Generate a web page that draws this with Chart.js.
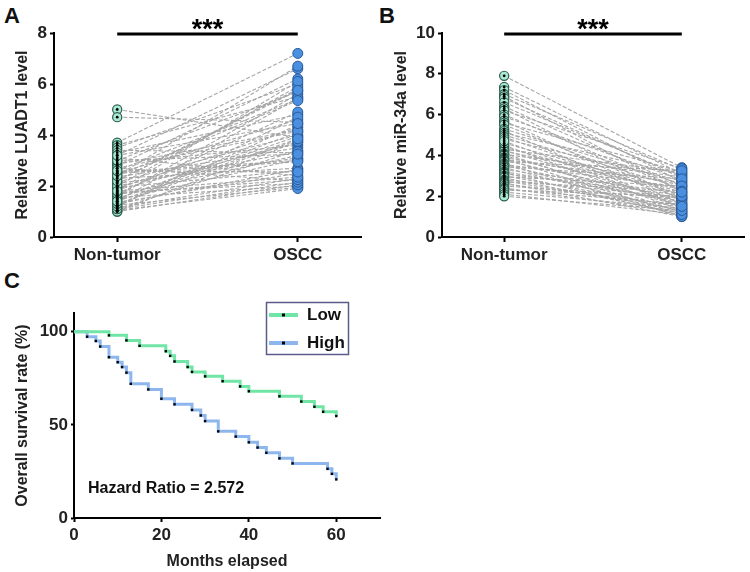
<!DOCTYPE html>
<html><head><meta charset="utf-8">
<script src="https://cdn.jsdelivr.net/npm/chart.js@4/dist/chart.umd.min.js"></script>
<style>
html,body{margin:0;padding:0;background:#fff;width:750px;height:572px;overflow:hidden;position:relative;font-family:'Liberation Sans',Arial,sans-serif;}
.lbl{position:absolute;font-weight:bold;font-size:22px;color:#111;line-height:1;}
canvas{position:absolute;}
</style></head><body>
<div class="lbl" style="left:4px;top:5px">A</div>
<div class="lbl" style="left:379px;top:5px">B</div>
<div class="lbl" style="left:4px;top:270px">C</div>
<canvas id="ca" width="375" height="272" style="left:0;top:0"></canvas>
<canvas id="cb" width="375" height="272" style="left:375px;top:0"></canvas>
<canvas id="cc" width="400" height="300" style="left:0;top:272px"></canvas>
<script>
// ---------- DATA ----------
const groups = ['Non-tumor', 'OSCC'];
const sigText = '***';

// Panel A: Relative LUADT1 level (paired samples)
const nonTumorA = [5.0, 4.7, 3.7, 3.6, 3.5, 3.4, 3.3, 3.2, 3.1, 3.0,
                   2.9, 2.85, 2.8, 2.7, 2.6, 2.55, 2.5, 2.4, 2.35, 2.3,
                   2.2, 2.15, 2.1, 2.0, 1.95, 1.9, 1.85, 1.8, 1.75, 1.7,
                   1.65, 1.6, 1.55, 1.5, 1.45, 1.4, 1.35, 1.3, 1.25, 1.2,
                   1.15, 1.1, 1.05, 1.0, 1.0, 1.1, 1.2, 1.3, 1.5, 1.7,
                   2.0, 2.2, 2.5, 2.7, 3.0, 3.2, 1.4, 1.8, 2.4, 2.6];
const osccA = [3.9, 4.5, 7.2, 5.5, 6.0, 3.3, 4.8, 6.6, 2.4, 5.7,
               3.6, 4.2, 6.2, 2.2, 5.4, 3.0, 4.6, 6.7, 3.5, 2.7,
               5.8, 4.0, 3.1, 5.9, 2.6, 4.3, 3.7, 6.1, 2.1, 4.9,
               3.2, 5.6, 2.0, 4.1, 3.05, 5.45, 2.5, 3.8, 1.95, 4.4,
               2.3, 3.4, 1.9, 2.05, 3.75, 2.15, 4.7, 2.65, 3.95, 2.25,
               3.35, 5.75, 2.95, 4.15, 3.25, 4.45, 3.85, 2.35, 5.35, 2.55];
const yTicksA = [0, 2, 4, 6, 8];
const yTitleA = 'Relative LUADT1 level';

// Panel B: Relative miR-34a level (paired samples)
const nonTumorB = [7.9, 7.35, 7.2, 7.0, 6.9, 6.8, 6.6, 6.4, 6.3, 6.2,
                   6.0, 5.9, 5.7, 5.6, 5.5, 5.3, 5.2, 5.1, 5.0, 4.9,
                   4.8, 4.5, 4.4, 4.3, 4.25, 4.2, 4.1, 4.05, 4.0, 3.9,
                   3.85, 3.8, 3.75, 3.7, 3.6, 3.55, 3.5, 3.45, 3.4, 3.3,
                   3.2, 3.15, 3.1, 3.0, 2.95, 2.9, 2.8, 2.75, 2.7, 2.65,
                   2.6, 2.5, 2.4, 2.35, 2.3, 2.2, 2.1, 2.0, 4.6, 4.7];
const osccB = [3.4, 3.1, 2.7, 3.3, 2.2, 2.9, 3.0, 2.5, 1.8, 3.35,
               2.3, 2.8, 1.6, 3.2, 2.0, 2.6, 1.4, 3.05, 2.4, 1.9,
               2.75, 1.3, 2.1, 3.15, 1.7, 2.55, 1.2, 2.95, 1.5, 2.35,
               1.1, 2.65, 1.85, 3.25, 1.0, 2.45, 1.65, 2.85, 1.25, 2.15,
               1.75, 1.05, 2.05, 1.45, 2.5, 1.15, 1.95, 1.35, 2.25, 1.0,
               1.55, 1.9, 1.2, 1.6, 2.0, 1.4, 1.1, 1.3, 2.2, 1.5];
const yTicksB = [0, 2, 4, 6, 8, 10];
const yTitleB = 'Relative miR-34a level';

// Panel C: Kaplan-Meier survival
const monthsLow = [0, 8, 12, 15, 21, 22, 23, 26, 27, 30, 34, 38, 40, 47, 52, 55, 57, 60];
const survLow   = [100, 98, 95.3, 92.4, 89.5, 87, 84, 81, 78.4, 76, 73.4, 70.6, 68, 65.3, 62.5, 59.7, 57, 54.7];
const monthsHigh = [0, 3, 5, 6, 8, 10, 11, 12, 13, 17, 20, 23, 27, 29, 30, 33, 37, 40, 42, 44, 47, 50, 58, 59, 60];
const survHigh   = [100, 97.3, 95, 92, 86.3, 83.6, 81, 78, 72, 69, 64, 61, 58, 55, 52, 46.5, 43.7, 40.6, 37.8, 35, 32, 29.3, 26.4, 23.7, 20.7];
const seriesC = ['Low', 'High'];
const xTicksC = [0, 20, 40, 60];
const yTicksC = [0, 50, 100];
const xTitleC = 'Months elapsed';
const yTitleC = 'Overall survival rate (%)';
const hazardText = 'Hazard Ratio = 2.572';

// ---------- STYLE ----------
const FONT = "'Liberation Sans', Arial, sans-serif";
const tickFont = {family: FONT, size: 17, weight: 'bold'};
const TXT = '#222';

const sigPlugin = {
  id: 'sig',
  afterDatasetsDraw(chart) {
    const {ctx, scales: {x}} = chart;
    const x0 = x.getPixelForValue(0), x1 = x.getPixelForValue(1);
    const yy = chart.chartArea.top + 1;
    ctx.save();
    ctx.strokeStyle = '#000'; ctx.lineWidth = 3;
    ctx.beginPath(); ctx.moveTo(x0, yy); ctx.lineTo(x1, yy); ctx.stroke();
    ctx.fillStyle = '#000';
    ctx.font = "bold 27px " + FONT;
    ctx.textAlign = 'center'; ctx.textBaseline = 'alphabetic';
    ctx.fillText(sigText, (x0 + x1) / 2, yy + 4);
    ctx.restore();
  }
};

function pairedChart(id, nt, os, yTicks, yTitle, yW, titlePad, padRight) {
  const ds = [];
  for (let i = 0; i < nt.length; i++) {
    ds.push({type: 'line', data: [{x: 0, y: nt[i]}, {x: 1, y: os[i]}],
      borderColor: '#a6a6a6', borderWidth: 1.1, borderDash: [4, 2],
      pointRadius: 0, order: 10, clip: false});
  }
  ds.push({type: 'scatter', data: nt.map(v => ({x: 0, y: v})), pointRadius: 4.6,
    backgroundColor: '#a9e9d2', borderColor: '#2e5e4e', borderWidth: 1.2, order: 3, clip: false});
  ds.push({type: 'scatter', data: nt.map(v => ({x: 0, y: v})), pointRadius: 1.4,
    backgroundColor: '#000', borderWidth: 0, order: 2, clip: false});
  ds.push({type: 'scatter', data: os.map(v => ({x: 1, y: v})), pointRadius: 5,
    backgroundColor: '#4b8fe1', borderColor: '#2a5a96', borderWidth: 1, order: 1, clip: false});

  new Chart(document.getElementById(id), {
    type: 'scatter',
    data: {datasets: ds},
    options: {
      responsive: false, animation: false,
      layout: {padding: {left: 0, top: 33, right: padRight, bottom: 0}},
      plugins: {legend: {display: false}, tooltip: {enabled: false}},
      scales: {
        x: {type: 'linear', min: -0.35, max: 1.35,
          afterBuildTicks: s => { s.ticks = [0, 1].map(v => ({value: v})); },
          afterFit: s => { s.height = 35; },
          ticks: {font: tickFont, color: TXT, padding: 3, maxRotation: 0,
            callback: (v, i) => groups[i]},
          grid: {display: true, drawOnChartArea: false, color: '#000', tickLength: 5, tickWidth: 2},
          border: {color: '#000', width: 2}},
        y: {min: 0, max: yTicks[yTicks.length - 1],
          afterBuildTicks: s => { s.ticks = yTicks.map(v => ({value: v})); },
          afterFit: s => { s.width = yW; },
          ticks: {font: tickFont, color: TXT, padding: 3},
          grid: {display: true, drawOnChartArea: false, color: '#000', tickLength: 4, tickWidth: 2},
          border: {color: '#000', width: 2},
          title: {display: true, text: yTitle, color: TXT,
            font: {family: FONT, size: 16, weight: 'bold'}, padding: {top: titlePad, bottom: 0}}}
      }
    },
    plugins: [sigPlugin]
  });
}

pairedChart('ca', nonTumorA, osccA, yTicksA, yTitleA, 54, 13, 14);
pairedChart('cb', nonTumorB, osccB, yTicksB, yTitleB, 67, 17, 3);

// ---------- Panel C ----------
const GREEN = '#70e5a6', BLUE = '#8db6ee';
const kmLegend = {
  id: 'kmLegend',
  afterDraw(chart) {
    const {ctx} = chart;
    ctx.save();
    ctx.strokeStyle = '#5b5b8c'; ctx.lineWidth = 1.5;
    ctx.strokeRect(266.5, 30.5, 82, 52);
    const items = [[seriesC[0], GREEN, 43], [seriesC[1], BLUE, 71]];
    ctx.font = "bold 17px " + FONT; ctx.textBaseline = 'middle'; ctx.textAlign = 'left';
    items.forEach(([t, c, y]) => {
      ctx.strokeStyle = c; ctx.lineWidth = 4;
      ctx.beginPath(); ctx.moveTo(269, y); ctx.lineTo(298, y); ctx.stroke();
      ctx.fillStyle = '#000'; ctx.fillRect(282, y - 1.5, 3, 3);
      ctx.fillStyle = '#111'; ctx.fillText(t, 307, y);
    });
    ctx.font = "bold 16px " + FONT;
    ctx.fillStyle = '#111';
    ctx.fillText(hazardText, 88, 217);
    ctx.restore();
  }
};

const toPts = (xs, ys) => xs.map((x, i) => ({x, y: ys[i]}));
new Chart(document.getElementById('cc'), {
  type: 'line',
  data: {datasets: [
    {label: seriesC[0], data: toPts(monthsLow, survLow), stepped: true, borderColor: GREEN, borderWidth: 3, pointRadius: 0, fill: false, order: 3},
    {label: seriesC[1], data: toPts(monthsHigh, survHigh), stepped: true, borderColor: BLUE, borderWidth: 3, pointRadius: 0, fill: false, order: 4},
    {type: 'scatter', data: toPts(monthsLow, survLow).slice(1), pointStyle: 'rect', pointRadius: 1.7, backgroundColor: '#000', borderWidth: 0, order: 1},
    {type: 'scatter', data: toPts(monthsHigh, survHigh).slice(1), pointStyle: 'rect', pointRadius: 1.7, backgroundColor: '#000', borderWidth: 0, order: 1}
  ]},
  options: {
    responsive: false, animation: false,
    layout: {padding: {left: 0, top: 41, right: 20, bottom: 0}},
    plugins: {legend: {display: false}, tooltip: {enabled: false}},
    scales: {
      x: {type: 'linear', min: 0, max: 70,
        afterBuildTicks: s => { s.ticks = xTicksC.map(v => ({value: v})); },
        afterFit: s => { s.height = 54; },
        ticks: {font: tickFont, color: TXT, padding: 3, maxRotation: 0},
        grid: {display: true, drawOnChartArea: false, color: '#000', tickLength: 4, tickWidth: 2},
        border: {color: '#000', width: 2},
        title: {display: true, text: xTitleC, color: TXT,
          font: {family: FONT, size: 16, weight: 'bold'}, padding: {top: 0, bottom: 1}}},
      y: {type: 'linear', min: 0, max: 110,
        afterBuildTicks: s => { s.ticks = yTicksC.map(v => ({value: v})); },
        afterFit: s => { s.width = 74; },
        ticks: {font: tickFont, color: TXT, padding: 3},
        grid: {display: true, drawOnChartArea: false, color: '#000', tickLength: 3, tickWidth: 2},
        border: {color: '#000', width: 2},
        title: {display: true, text: yTitleC, color: TXT,
          font: {family: FONT, size: 16, weight: 'bold'}, padding: {top: 13, bottom: 0}}}
    }
  },
  plugins: [kmLegend]
});
</script>
</body></html>
